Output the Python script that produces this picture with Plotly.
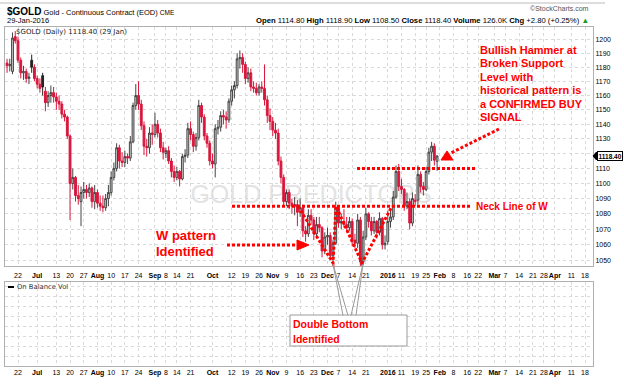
import numpy as np
import pandas as pd
import plotly.graph_objects as go

# ---------------- data ----------------
symbol = "$GOLD"
description = "Gold - Continuous Contract (EOD)"
exchange = "CME"
volume_text = "126.0K"

holidays = ["2015-07-03", "2015-09-07", "2015-11-26", "2015-12-25", "2016-01-01",
            "2016-01-18", "2016-02-15", "2016-03-25"]
first_day, last_day = "2015-06-16", "2016-01-29"

opens = [
    1183, 1181, 1177, 1202, 1199, 1185, 1176, 1177, 1172, 1185, 1180,
    1172, 1168, 1174, 1163, 1155, 1160, 1162, 1159, 1156, 1154, 1147, 1145, 1132, 1100, 1104, 1092, 1088, 1094, 1096, 1094, 1097, 1088,
    1094, 1087, 1085, 1084, 1090, 1094, 1104, 1110, 1124, 1115, 1114, 1118, 1117, 1128, 1153, 1160, 1154, 1139, 1125, 1124, 1134,
    1133, 1140, 1134, 1124, 1120, 1122, 1115, 1108, 1104, 1108, 1103, 1118, 1119, 1137, 1133, 1125, 1131, 1153, 1145, 1132, 1127,
    1115, 1113, 1137, 1138, 1146, 1145, 1143, 1156, 1164, 1167, 1186, 1187, 1182, 1172, 1176, 1166, 1165, 1162, 1166, 1165, 1157, 1146,
    1142, 1136, 1134, 1115, 1104, 1088, 1094, 1087, 1085, 1086, 1081, 1084, 1069, 1067, 1079, 1076, 1067, 1073, 1071, 1056,
    1065, 1066, 1053, 1061, 1084, 1074, 1075, 1073, 1071, 1075, 1063, 1061, 1076, 1049, 1065, 1080, 1075, 1069, 1075, 1068, 1077, 1060,
    1062, 1075, 1078, 1091, 1108, 1098, 1096, 1085, 1088, 1074, 1088, 1089, 1106, 1098, 1096, 1108, 1121, 1125, 1114.8,
]
highs = [
    1186, 1186, 1205, 1206, 1202, 1187, 1181, 1179, 1176, 1189, 1182,
    1174, 1172, 1176, 1166, 1163, 1167, 1166, 1162, 1160, 1156, 1150, 1146, 1133, 1110, 1105, 1099, 1098, 1101, 1099, 1100, 1098, 1099,
    1096, 1092, 1092, 1093, 1099, 1108, 1114, 1127, 1126, 1121, 1122, 1120, 1132, 1155, 1168, 1170, 1157, 1142, 1130, 1138, 1140,
    1148, 1143, 1137, 1128, 1124, 1125, 1117, 1112, 1111, 1109, 1120, 1123, 1141, 1142, 1135, 1134, 1157, 1155, 1147, 1134, 1129,
    1120, 1140, 1143, 1149, 1150, 1149, 1158, 1167, 1170, 1190, 1192, 1190, 1184, 1180, 1179, 1170, 1169, 1168, 1170, 1182, 1160, 1151,
    1145, 1141, 1137, 1118, 1106, 1096, 1096, 1090, 1091, 1089, 1090, 1086, 1072, 1083, 1083, 1078, 1078, 1078, 1072, 1068,
    1071, 1068, 1063, 1088, 1085, 1080, 1083, 1078, 1078, 1077, 1067, 1080, 1078, 1069, 1084, 1081, 1078, 1078, 1076, 1081, 1078, 1066,
    1082, 1082, 1095, 1112, 1113, 1103, 1097, 1094, 1090, 1094, 1093, 1112, 1108, 1101, 1111, 1124, 1128, 1127, 1118.9,
]
lows = [
    1176, 1177, 1175, 1197, 1183, 1172, 1171, 1169, 1168, 1176, 1170,
    1165, 1162, 1160, 1149, 1152, 1155, 1155, 1150, 1150, 1144, 1142, 1130, 1076, 1096, 1088, 1086, 1072, 1090, 1090, 1091, 1084, 1083,
    1084, 1082, 1081, 1082, 1085, 1092, 1102, 1108, 1110, 1111, 1111, 1113, 1115, 1127, 1150, 1150, 1136, 1119, 1118, 1120, 1126,
    1131, 1131, 1121, 1116, 1117, 1113, 1104, 1101, 1102, 1098, 1102, 1114, 1117, 1129, 1121, 1122, 1129, 1141, 1129, 1124, 1112,
    1110, 1104, 1133, 1135, 1140, 1137, 1141, 1153, 1158, 1165, 1179, 1176, 1168, 1169, 1163, 1162, 1160, 1160, 1162, 1153, 1141, 1136,
    1132, 1130, 1112, 1100, 1085, 1085, 1083, 1080, 1079, 1072, 1078, 1065, 1062, 1065, 1073, 1063, 1065, 1068, 1052, 1054,
    1060, 1051, 1046, 1060, 1071, 1070, 1071, 1068, 1069, 1059, 1058, 1058, 1046, 1047, 1063, 1071, 1066, 1067, 1064, 1066, 1057, 1057,
    1060, 1071, 1076, 1090, 1095, 1093, 1082, 1083, 1070, 1072, 1085, 1086, 1094, 1092, 1095, 1106, 1115, 1112, 1108.5,
]
closes = [
    1181, 1182, 1201, 1199, 1185, 1176, 1177, 1172, 1173, 1180, 1172,
    1168, 1165, 1166, 1155, 1160, 1162, 1159, 1156, 1154, 1147, 1145, 1132, 1100, 1104, 1092, 1090, 1094, 1096, 1094, 1097, 1088, 1094,
    1087, 1085, 1084, 1090, 1094, 1104, 1110, 1124, 1115, 1114, 1118, 1117, 1128, 1153, 1160, 1154, 1139, 1125, 1124, 1134, 1133,
    1140, 1134, 1124, 1121, 1122, 1115, 1108, 1104, 1108, 1103, 1118, 1119, 1137, 1133, 1125, 1131, 1153, 1145, 1132, 1127, 1115,
    1113, 1137, 1138, 1146, 1145, 1143, 1156, 1164, 1167, 1186, 1187, 1182, 1172, 1176, 1166, 1165, 1162, 1166, 1165, 1157, 1146, 1142,
    1136, 1134, 1115, 1104, 1088, 1094, 1087, 1085, 1086, 1081, 1084, 1069, 1067, 1079, 1076, 1067, 1073, 1071, 1056, 1065,
    1066, 1053, 1061, 1084, 1074, 1075, 1073, 1071, 1075, 1063, 1061, 1076, 1049, 1065, 1080, 1075, 1069, 1075, 1068, 1077, 1060, 1061,
    1075, 1078, 1091, 1108, 1098, 1096, 1085, 1088, 1074, 1090, 1089, 1106, 1098, 1096, 1108, 1121, 1125, 1115.6, 1118.4,
]

tick_dates = ["2015-06-22", "2015-07-01", "2015-07-13", "2015-07-20", "2015-07-27", "2015-08-03",
              "2015-08-10", "2015-08-17", "2015-08-24", "2015-09-01", "2015-09-08", "2015-09-14",
              "2015-09-21", "2015-10-01", "2015-10-12", "2015-10-19", "2015-10-26", "2015-11-02",
              "2015-11-09", "2015-11-16", "2015-11-23", "2015-12-01", "2015-12-07", "2015-12-14",
              "2015-12-21", "2016-01-04", "2016-01-11", "2016-01-19", "2016-01-25", "2016-02-01",
              "2016-02-08", "2016-02-16", "2016-02-22", "2016-03-01", "2016-03-07", "2016-03-14",
              "2016-03-21", "2016-03-28", "2016-04-01", "2016-04-11", "2016-04-18"]
tick_text = ["22", "Jul", "13", "20", "27", "Aug", "10", "17", "24", "Sep", "8", "14", "21", "Oct",
             "12", "19", "26", "Nov", "9", "16", "23", "Dec", "7", "14", "21", "2016", "11", "19",
             "25", "Feb", "8", "16", "22", "Mar", "7", "14", "21", "28", "Apr", "11", "18"]
bold_ticks = ["Jul", "Aug", "Sep", "Oct", "Nov", "Dec", "2016", "Feb", "Mar", "Apr"]
price_ticks = [1050, 1060, 1070, 1080, 1090, 1100, 1110, 1120, 1130, 1140, 1150, 1160, 1170, 1180, 1190, 1200]
hidden_price_ticks = [1120]
price_range = [1046.5, 1209]
support_level = 1110
neck_level = 1085

# ---------------- positions on a trading-day axis ----------------
dates = pd.bdate_range(first_day, last_day, freq="C", holidays=holidays)
assert len(dates) == len(closes) == len(opens) == len(highs) == len(lows)
hol = np.array(holidays, dtype="datetime64[D]")
origin = np.datetime64("2015-06-22")


def trade_pos(d):
    return np.busday_count(origin, np.asarray(d, dtype="datetime64[D]"), holidays=hol)


xpos = trade_pos(dates.values.astype("datetime64[D]"))
tick_pos = trade_pos(tick_dates)
tick_labels = [f"<b>{t}</b>" if t in bold_ticks else t for t in tick_text]

W, H = 624, 386
X0_PX, X1_PX = 5, 593
Y_TOP, MAIN_BOT, OBV_TOP, OBV_BOT = 27, 266, 282, 366


def PX(x):
    return (x - X0_PX) / (X1_PX - X0_PX)


def PY(y):
    return (OBV_BOT - y) / (OBV_BOT - Y_TOP)


# calibrate trading-day axis: 22 Jun at 18px, 18 Apr at 585px
pa, pb = int(trade_pos("2015-06-22")), int(trade_pos("2016-04-18"))
scale = (585 - 18) / (pb - pa)
x_lo = pa - (18 - X0_PX) / scale
x_hi = pa + (X1_PX - 18) / scale

FONT = "Liberation Sans, Arial, sans-serif"
VFONT = "DejaVu Sans, Verdana, sans-serif"
RED = "#ff0000"
CANDLE_RED = "#d8173c"
GRID = "#d9d9d9"
BORDER = "#b0b0b0"

prev_close = [opens[0]] + closes[:-1]
n = len(closes)
up = [i for i in range(n) if closes[i] >= prev_close[i]]
dn = [i for i in range(n) if closes[i] < prev_close[i]]


def pick(arr, idx):
    return [arr[i] for i in idx]


fig = go.Figure()
fig.add_trace(go.Candlestick(
    x=pick(list(xpos), up), open=pick(opens, up), high=pick(highs, up),
    low=pick(lows, up), close=pick(closes, up),
    increasing=dict(line=dict(color="#444444", width=1), fillcolor="#cfcfcf"),
    decreasing=dict(line=dict(color="#222222", width=1), fillcolor="#222222"),
    whiskerwidth=0, showlegend=False, hoverinfo="skip"))
fig.add_trace(go.Candlestick(
    x=pick(list(xpos), dn), open=pick(opens, dn), high=pick(highs, dn),
    low=pick(lows, dn), close=pick(closes, dn),
    increasing=dict(line=dict(color=CANDLE_RED, width=1), fillcolor="#ffffff"),
    decreasing=dict(line=dict(color=CANDLE_RED, width=1), fillcolor=CANDLE_RED),
    whiskerwidth=0, showlegend=False, hoverinfo="skip"))
fig.add_trace(go.Scatter(x=[], y=[], xaxis="x2", yaxis="y2", showlegend=False))

# ---------------- shapes ----------------
DOT = dict(color=RED, width=3, dash="3px,2px")


def seg(x0, y0, x1, y1, line=DOT):
    return dict(type="line", xref="paper", yref="paper", x0=PX(x0), y0=PY(y0),
                x1=PX(x1), y1=PY(y1), line=line, layer="above")


def poly(points, closed, line, fill=None):
    d = "M " + " L ".join(f"{PX(x):.5f},{PY(y):.5f}" for x, y in points)
    if closed:
        d += " Z"
    s = dict(type="path", xref="paper", yref="paper", path=d, line=line, layer="above")
    if fill:
        s["fillcolor"] = fill
    return s


lr = np.log(price_range[1]) - np.log(price_range[0])


def price_px(p):
    return Y_TOP + (np.log(price_range[1]) - np.log(p)) / lr * (MAIN_BOT - Y_TOP)


shapes = []
# watermark behind candles
shapes.append(dict(type="rect", xref="paper", yref="paper", x0=PX(188), x1=PX(434),
                   y0=PY(206), y1=PY(178), line=dict(width=0), layer="between",
                   label=dict(text="GOLD PREDICTORS", textposition="middle center",
                              font=dict(size=25, color="#e3e3e3", family=FONT))))
# header line
shapes.append(dict(type="line", xref="paper", yref="paper", x0=PX(0), x1=PX(605),
                   y0=PY(3), y1=PY(3), line=dict(color="#bbbbbb", width=1)))
# support & neck lines
ys = price_px(support_level)
yn = price_px(neck_level)
shapes.append(seg(357, ys, 475, ys))
shapes.append(seg(232, yn, 472, yn))
# W pattern
shapes.append(poly([(298, yn), (333, 263), (336, yn), (362, 263), (392, yn)], False, DOT))
# W arrow
shapes.append(seg(227, 245, 298, 245))
shapes.append(poly([(297, 240), (309, 245), (297, 250)], True, dict(color=RED, width=1), RED))
# hammer arrow
shapes.append(seg(499, 129, 451, 153))
shapes.append(poly([(441, 160), (447, 151), (453, 160)], True, dict(color=RED, width=1), RED))
# callout box for double bottom
shapes.append(dict(type="rect", xref="paper", yref="paper", x0=PX(290), x1=PX(407),
                   y0=PY(346), y1=PY(315), line=dict(color="#9a9a9a", width=1),
                   fillcolor="white", layer="above"))
shapes.append(poly([(343, 315.5), (333, 264), (348, 315.5)], False, dict(color="#9a9a9a", width=1)))
shapes.append(poly([(351, 315.5), (363, 264), (356, 315.5)], False, dict(color="#9a9a9a", width=1)))
# price tag notch
yc = price_px(closes[-1])
shapes.append(poly([(593, yc), (596.5, yc - 4), (596.5, yc + 4)], True, dict(color="#000", width=1), "#000"))
# OBV legend swatch
shapes.append(dict(type="line", xref="paper", yref="paper", x0=PX(8), x1=PX(14),
                   y0=PY(287), y1=PY(287), line=dict(color="#000", width=2)))

# ---------------- annotations ----------------


def txt(x, y, s, size, color="#000", bold=False, anchor="left", family=FONT, **kw):
    d = dict(xref="paper", yref="paper", x=PX(x), y=PY(y),
             text=f"<b>{s}</b>" if bold else s, showarrow=False, xanchor=anchor,
             yanchor="middle", font=dict(size=size, color=color, family=family), borderpad=0)
    d.update(kw)
    return d


chg = closes[-1] - closes[-2]
pct = chg / closes[-2] * 100
last = dates[-1]
ann = []
ann.append(txt(6, 11, f"<b><span style='font-size:10px'>{symbol}</span></b> {description} "
                      f"<span style='font-size:6.5px'>{exchange}</span>", 7.5))
ann.append(txt(6, 21, last.strftime("%d-%b-%Y"), 7.5))
ann.append(txt(590, 21,
               f"<b>Open</b> {opens[-1]:.2f} <b>High</b> {highs[-1]:.2f} <b>Low</b> {lows[-1]:.2f} "
               f"<b>Close</b> {closes[-1]:.2f} <b>Volume</b> {volume_text} <b>Chg</b> {chg:+.2f} "
               f"({pct:+.2f}%) <span style='color:#1a9a1a'>▲</span>", 7.7, anchor="right"))
ann.append(txt(590, 9, "©StockCharts.com", 7, color="#555", anchor="right"))
ann.append(txt(15, 31.5, f"{symbol} (Daily) {closes[-1]:.2f} ({last.day} {last.strftime('%b')})",
               7, color="#222", family=VFONT))
ann.append(txt(16, 287, "On Balance Vol", 6.8, color="#333", family=VFONT))

hammer_lines = ["Bullish Hammer at", "Broken Support", "Level with",
                "historical pattern is", "a CONFIRMED BUY", "SIGNAL"]
for k, line in enumerate(hammer_lines):
    ann.append(txt(479, 50 + 13.4 * k, line, 11, RED, bold=True))
ann.append(txt(475, yn, "Neck Line of W", 10, RED, bold=True))
ann.append(txt(155, 235, "W pattern", 13, RED, bold=True))
ann.append(txt(155, 251, "Identified", 13, RED, bold=True))
ann.append(txt(292, 324, "Double Bottom", 10.5, RED, bold=True))
ann.append(txt(292, 339, "Identified", 10.5, RED, bold=True))
ann.append(dict(xref="paper", yref="y", x=PX(596.5), y=np.log10(closes[-1]),
                text=f"<b>{closes[-1]:.2f}</b>", showarrow=False, xanchor="left",
                yanchor="middle", font=dict(size=6.5, color="#000", family=FONT),
                bordercolor="#000", borderwidth=1, borderpad=0.5, bgcolor="white"))

price_text = ["" if p in hidden_price_ticks else str(p) for p in price_ticks]

xcommon = dict(range=[x_lo, x_hi], tickmode="array", tickvals=tick_pos, ticktext=tick_labels,
               tickfont=dict(size=7), tickangle=0, showgrid=True, gridcolor=GRID,
               griddash="dot", gridwidth=1, showline=True, mirror=True, linecolor=BORDER,
               linewidth=1, zeroline=False, fixedrange=True)

fig.update_layout(
    width=W, height=H, autosize=False,
    margin=dict(l=X0_PX, r=W - X1_PX, t=Y_TOP, b=H - OBV_BOT),
    paper_bgcolor="white", plot_bgcolor="white",
    font=dict(family=FONT, size=7.5, color="#000"),
    showlegend=False, boxgap=0.05,
    xaxis=dict(domain=[0, 1], anchor="y", ticks="outside", ticklen=3,
               tickcolor="rgba(0,0,0,0)", rangeslider=dict(visible=False), **xcommon),
    yaxis=dict(domain=[PY(MAIN_BOT), 1], anchor="x", type="log",
               range=[np.log10(price_range[0]), np.log10(price_range[1])],
               side="right", tickmode="array", tickvals=price_ticks, ticktext=price_text,
               tickfont=dict(size=7), showgrid=True, gridcolor=GRID, griddash="dot",
               showline=True, mirror=True, linecolor=BORDER, ticks="", zeroline=False,
               fixedrange=True),
    xaxis2=dict(domain=[0, 1], anchor="y2", matches="x", ticks="", **xcommon),
    yaxis2=dict(domain=[0, PY(OBV_TOP)], anchor="x2", range=[0, 8.4], dtick=1,
                showticklabels=False, showgrid=True, gridcolor=GRID, griddash="dot",
                showline=True, mirror=True, linecolor=BORDER, ticks="", zeroline=False,
                side="right"),
    shapes=shapes, annotations=ann,
)

fig.write_html("out.html", config={"displayModeBar": False},
               post_script="document.body.style.margin='0';document.body.style.overflow='hidden';")
